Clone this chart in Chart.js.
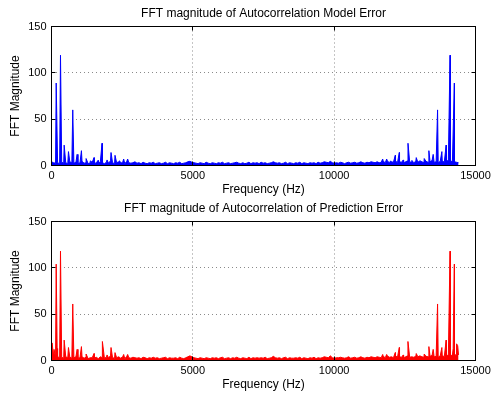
<!DOCTYPE html>
<html>
<head>
<meta charset="utf-8">
<script src="https://cdn.jsdelivr.net/npm/chart.js@4/dist/chart.umd.min.js"></script>
<style>
  html, body { margin: 0; padding: 0; background: #fff; }
  body { width: 493px; height: 394px; position: relative; overflow: hidden; }
  canvas { position: absolute; left: 0; }
  #modelChart { top: 0; }
  #predChart { top: 195px; }
</style>
</head>
<body>
<canvas id="modelChart" width="493" height="199"></canvas>
<canvas id="predChart" width="493" height="199"></canvas>
<script>
// --- DATOS ---

const binHz = 72; // separación de las muestras del fondo de ruido

const xTickValues = [0, 5000, 10000, 15000];
const xTickLabels = ['0', '5000', '10000', '15000'];
const yTickValues = [0, 50, 100, 150];
const yTickLabels = ['0', '50', '100', '150'];

// fondo de ruido, modelo (una muestra cada binHz desde 0 Hz)
const modelNoise = [
  4, 3, 2.5, 3, 2, 3.5, 2.5, 3, 2, 4, 3, 2.5, 3.5, 2, 3, 4.5, 2.5, 3, 2, 3,
  3.5, 2, 3, 2.5, 4, 3, 2, 3.5, 2.5, 5, 3, 2, 3, 4, 2.5, 3.5, 2, 4.5, 3, 2.5,
  3, 4, 2.5, 3, 2, 3.5, 2.5, 2, 3, 2.5, 3.5, 2, 2.5, 3, 2, 2.5, 3.5, 2, 3, 2.5,
  2, 3, 2.5, 3.5, 2, 2.5, 3, 4, 4.5, 3.5, 3, 2.5, 2, 3, 2.5, 2, 3.5, 2.5, 2, 3,
  2.5, 2, 3, 2.5, 3.5, 2, 2.5, 3, 2, 2.5, 3, 3.5, 2.5, 2, 3, 2, 2.5, 3.5, 2, 3,
  2.5, 3, 2, 3.5, 2.5, 3, 2, 2.5, 3, 4, 3, 2.5, 3, 2, 2.5, 3.5, 2, 3, 2.5, 2,
  3, 2.5, 3.5, 2, 3, 2.5, 2, 3, 2.5, 3, 2, 3.5, 2.5, 3, 4, 3.5, 3, 4.5, 3, 2.5,
  3, 2.5, 3.5, 3, 2, 3, 3.5, 2.5, 3, 3.5, 2.5, 3, 4, 3, 2.5, 3.5, 3, 4, 3.5, 3,
  4, 3, 3.5, 4.5, 3, 5, 3, 4, 3.5, 5, 3, 4, 3.5, 3, 4, 5, 3.5, 4, 3, 4.5,
  3.5, 5, 4, 3, 4.5, 3.5, 4, 5.5, 3.5, 4, 3, 4.5, 5, 3.5, 4, 6, 4, 5, 4, 3.5, 3
];

// picos del modelo: [frecuencia Hz, magnitud]
const modelPeaks = [
  [166, 89], [318, 119], [448, 22], [600, 15], [752, 60], [907, 12], [1059, 16],
  [1224, 7.5], [1370, 5], [1506, 8.5], [1650, 5.5], [1788, 24], [1965, 6], [2106, 14],
  [2247, 11], [2412, 5], [2553, 7], [2694, 7],
  [11716, 7], [11857, 7], [11998, 5], [12163, 11], [12304, 14], [12445, 6], [12612, 24],
  [12750, 5.5], [12904, 8.5], [13040, 5], [13186, 7.5], [13351, 16], [13503, 12],
  [13658, 60], [13810, 15], [13962, 22], [14100, 119], [14252, 89]
];

// fondo de ruido, error de predicción
const predNoise = [
  8, 5, 3, 4, 3, 3.5, 2.5, 4, 3, 3.5, 2.5, 3, 4, 2.5, 3, 4, 2.5, 3.5, 2, 3,
  3, 2.5, 3.5, 2, 4, 3, 2.5, 3.5, 3, 5, 3, 2.5, 3, 4, 2.5, 4, 2, 4.5, 3, 2.5,
  3.5, 3, 2.5, 3, 2, 3.5, 3, 2, 3, 2.5, 3.5, 2.5, 3, 2, 2.5, 3, 3.5, 2, 3, 2.5,
  2.5, 3, 2, 3.5, 2.5, 2, 3, 4, 5, 4, 3, 2.5, 2, 3, 2.5, 2, 3, 2.5, 2, 3,
  2.5, 3, 2, 3, 3.5, 2, 2.5, 3, 2, 3, 2.5, 3.5, 2.5, 2, 3, 2.5, 2, 3.5, 2, 3,
  2.5, 3, 2.5, 3, 2.5, 3.5, 2, 2.5, 3, 4.5, 3, 2.5, 3, 2, 3, 3.5, 2, 3, 2.5, 2.5,
  3, 2.5, 3.5, 2, 3, 2.5, 2, 3, 2.5, 3.5, 2, 3, 2.5, 3, 4, 3.5, 3, 5, 3, 2.5,
  3, 3, 3.5, 3, 2.5, 3, 4, 2.5, 3, 3.5, 2.5, 3, 4, 3, 2.5, 3.5, 3, 4, 3.5, 3,
  4, 3.5, 3, 4.5, 3, 5, 3.5, 4, 3, 5, 3.5, 4, 3.5, 3, 4, 5, 3.5, 4, 3.5, 4.5,
  4, 5, 4, 3.5, 4.5, 4, 4.5, 5.5, 4, 4.5, 3.5, 5, 5.5, 4, 5, 6, 5, 6, 5, 7, 6
];

const predPeaks = [
  [20, 19], [90, 12], [166, 104], [200, 13], [318, 118], [448, 22], [600, 14],
  [752, 61], [907, 12], [1059, 15], [1224, 7], [1506, 7.5], [1800, 20.5], [1965, 6],
  [2106, 14], [2247, 8.5], [2553, 6.5], [2694, 6.5],
  [11716, 6.5], [11857, 6.5], [12163, 8.5], [12304, 14], [12445, 6], [12610, 20.5],
  [12904, 7.5], [13186, 7], [13351, 15], [13503, 12], [13658, 61], [13810, 14],
  [13962, 22], [14100, 118], [14210, 13], [14252, 104], [14330, 18], [14370, 16]
];

// --- UTILIDADES ---

// junta ruido y picos en una sola serie ordenada por frecuencia
function buildSeries(noise, peaks) {
    const pts = noise.map((v, i) => ({ x: i * binHz, y: v }));
    peaks.forEach(p => pts.push({ x: p[0], y: p[1] }));
    return pts.sort((a, b) => a.x - b.x);
}

// caja negra y marcas hacia dentro, estilo MATLAB
const matlabBox = {
    id: 'matlabBox',
    afterDatasetsDraw(chart) {
        const { ctx, chartArea: a, scales: { x, y } } = chart;
        const tick = 4;
        ctx.save();
        ctx.strokeStyle = '#000';
        ctx.lineWidth = 1;
        ctx.beginPath();
        xTickValues.forEach(v => {
            const px = Math.floor(x.getPixelForValue(v)) + 0.5;
            ctx.moveTo(px, a.bottom); ctx.lineTo(px, a.bottom - tick);
            ctx.moveTo(px, a.top); ctx.lineTo(px, a.top + tick);
        });
        yTickValues.forEach(v => {
            const py = Math.floor(y.getPixelForValue(v)) + 0.5;
            ctx.moveTo(a.left, py); ctx.lineTo(a.left + tick, py);
            ctx.moveTo(a.right, py); ctx.lineTo(a.right - tick, py);
        });
        ctx.stroke();
        ctx.strokeRect(a.left, a.top, a.right - a.left, a.bottom - a.top);
        ctx.restore();
    }
};

const gridColor = (edges) => (c) => edges.includes(c.tick.value) ? 'rgba(0,0,0,0)' : '#8a8a8a';

function makeChart(canvasId, title, points, color) {
    return new Chart(document.getElementById(canvasId), {
        type: 'line',
        data: {
            datasets: [{
                data: points,
                borderColor: color,
                backgroundColor: color,
                borderWidth: 1,
                pointRadius: 0,
                tension: 0,
                fill: 'origin'
            }]
        },
        options: {
            responsive: false,
            animation: false,
            events: [],
            layout: { padding: { left: 0, right: 17.5, top: 0, bottom: 0 } },
            plugins: {
                legend: { display: false },
                tooltip: { enabled: false },
                title: {
                    display: true, text: title, color: '#000', fullSize: false,
                    font: { size: 12, weight: 'normal' },
                    padding: { top: 6, bottom: 6.1 }
                }
            },
            scales: {
                x: {
                    type: 'linear', min: 0, max: 15000,
                    afterBuildTicks: s => { s.ticks = xTickValues.map(v => ({ value: v })); },
                    afterFit: s => { s.height = 33.5; s.paddingLeft = 0; s.paddingRight = 0; },
                    ticks: {
                        color: '#000', font: { size: 11 }, padding: 4, maxRotation: 0, autoSkip: false,
                        callback: (v) => xTickLabels[xTickValues.indexOf(v)]
                    },
                    grid: { color: gridColor([0, 15000]), drawTicks: false, lineWidth: 1 },
                    border: { display: false, dash: [1, 3] },
                    title: {
                        display: true, text: 'Frequency (Hz)', color: '#000',
                        font: { size: 12 }, padding: { top: 0, bottom: 2 }
                    }
                },
                y: {
                    min: 0, max: 150,
                    afterBuildTicks: s => { s.ticks = yTickValues.map(v => ({ value: v })); },
                    afterFit: s => { s.width = 51.5; s.paddingTop = 0; s.paddingBottom = 0; },
                    ticks: {
                        color: '#000', font: { size: 11 }, padding: 5,
                        callback: (v) => yTickLabels[yTickValues.indexOf(v)]
                    },
                    grid: { color: gridColor([0, 150]), drawTicks: false, lineWidth: 1 },
                    border: { display: false, dash: [1, 3] },
                    title: {
                        display: true, text: 'FFT Magnitude', color: '#000',
                        font: { size: 12 }, padding: { top: 8.3, bottom: 0 }
                    }
                }
            }
        },
        plugins: [matlabBox]
    });
}

Chart.defaults.font.family = '"Liberation Sans", Arial, Helvetica, sans-serif';

makeChart('modelChart', 'FFT magnitude of Autocorrelation Model Error', buildSeries(modelNoise, modelPeaks), '#0000ff');
makeChart('predChart', 'FFT magnitude of Autocorrelation of Prediction Error', buildSeries(predNoise, predPeaks), '#ff0000');
</script>
</body>
</html>
